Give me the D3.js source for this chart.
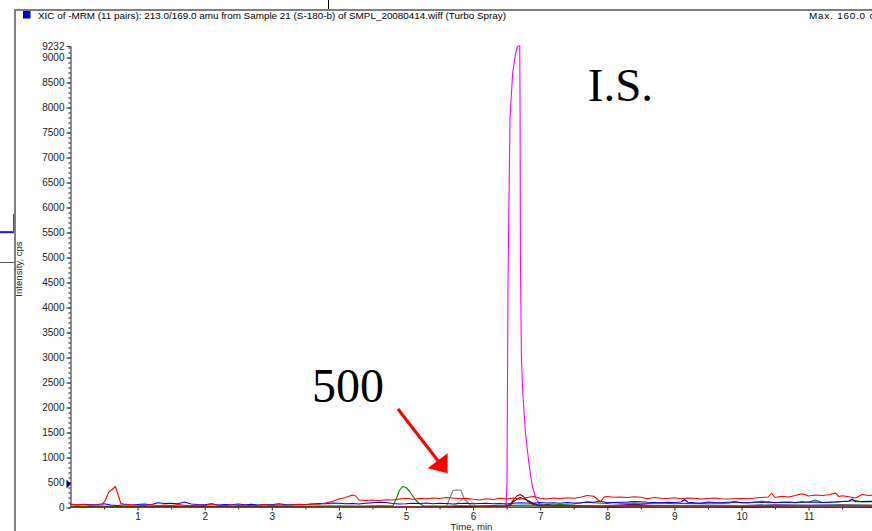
<!DOCTYPE html>
<html>
<head>
<meta charset="utf-8">
<script src="https://cdn.jsdelivr.net/npm/d3@7"></script>
<style>
  html, body { margin: 0; padding: 0; background: #fff; overflow: hidden; }
  svg { display: block; }
  text { font-family: "Liberation Sans", Arial, sans-serif; }
</style>
</head>
<body>
<svg id="chart" width="872" height="531"></svg>
<script>
// ---- header text ----
const titleText = "XIC of -MRM (11 pairs): 213.0/169.0 amu from Sample 21 (S-180-b) of SMPL_20080414.wiff (Turbo Spray)";
const maxText = "Max. 160.0 cps.";
const xAxisTitle = "Time, min";
const yAxisTitle = "Intensity, cps";

// ---- axis ticks ----
const xTickValues = [1, 2, 3, 4, 5, 6, 7, 8, 9, 10, 11];
const xMinorTicks = [0.5, 1.5, 2.5, 3.5, 4.5, 5.5, 6.5, 7.5, 8.5, 9.5, 10.5, 11.5];
const yTickValues = [0, 500, 1000, 1500, 2000, 2500, 3000, 3500, 4000, 4500, 5000, 5500, 6000, 6500, 7000, 7500, 8000, 8500, 9000, 9232];
const yMinorTicks = d3.range(0, 9201, 100);
const yMax = 9232;
const xMax = 12;

// ---- traces: [time (min), intensity (cps)] ----
const redTrace = [[0,70],[0.1,55],[0.2,60],[0.3,45],[0.4,50],[0.47,55],[0.52,150],[0.57,310],[0.62,360],[0.67,420],[0.71,250],[0.75,80],[0.8,70],[0.9,55],[1.0,45],[1.1,40],[1.2,55],[1.3,35],[1.4,50],[1.5,40],[1.6,60],[1.7,45],[1.8,35],[1.9,50],[2.0,40],[2.1,75],[2.2,45],[2.3,35],[2.4,55],[2.5,40],[2.6,50],[2.7,35],[2.8,45],[2.9,60],[3.0,40],[3.1,55],[3.2,45],[3.3,50],[3.4,60],[3.5,55],[3.6,70],[3.7,65],[3.8,90],[3.9,120],[4.0,170],[4.1,200],[4.2,250],[4.25,230],[4.3,150],[4.4,140],[4.5,150],[4.6,135],[4.7,155],[4.8,150],[4.9,170],[5.0,185],[5.1,165],[5.2,180],[5.3,175],[5.4,190],[5.5,180],[5.6,200],[5.7,190],[5.8,175],[5.9,185],[6.0,165],[6.1,150],[6.2,175],[6.3,160],[6.4,185],[6.5,170],[6.6,190],[6.7,165],[6.8,200],[6.9,220],[7.0,185],[7.1,170],[7.2,190],[7.3,175],[7.4,195],[7.5,185],[7.6,205],[7.7,240],[7.8,225],[7.9,110],[7.95,210],[8.0,220],[8.1,205],[8.2,210],[8.3,200],[8.4,215],[8.5,205],[8.6,175],[8.7,200],[8.8,185],[8.9,180],[9.0,195],[9.1,175],[9.2,190],[9.3,185],[9.4,170],[9.5,180],[9.6,190],[9.7,175],[9.8,170],[9.9,175],[10.0,180],[10.1,175],[10.2,190],[10.3,200],[10.4,210],[10.45,285],[10.5,200],[10.6,225],[10.7,210],[10.8,240],[10.9,275],[11.0,230],[11.1,250],[11.2,240],[11.3,255],[11.4,290],[11.45,220],[11.5,235],[11.6,215],[11.7,190],[11.8,260],[11.9,240],[12.0,250]];

const blueTrace = [[0,60],[0.1,50],[0.2,65],[0.3,55],[0.4,60],[0.5,75],[0.6,50],[0.7,40],[0.8,55],[0.9,50],[1.0,60],[1.1,70],[1.2,55],[1.3,95],[1.4,80],[1.5,85],[1.6,75],[1.7,110],[1.8,70],[1.9,60],[2.0,55],[2.1,75],[2.2,50],[2.3,60],[2.4,55],[2.5,70],[2.6,55],[2.7,65],[2.8,50],[2.9,60],[3.0,55],[3.1,75],[3.2,60],[3.3,55],[3.4,65],[3.5,60],[3.6,70],[3.7,80],[3.8,75],[3.9,90],[4.0,85],[4.1,75],[4.2,80],[4.3,70],[4.4,85],[4.5,95],[4.6,105],[4.7,100],[4.8,80],[4.9,70],[5.0,75],[5.1,85],[5.2,80],[5.3,90],[5.4,75],[5.5,85],[5.6,80],[5.7,70],[5.8,80],[5.9,85],[6.0,75],[6.1,80],[6.2,85],[6.3,75],[6.4,80],[6.5,70],[6.6,85],[6.7,95],[6.8,90],[6.9,85],[7.0,100],[7.1,90],[7.2,95],[7.3,85],[7.4,100],[7.5,90],[7.6,95],[7.7,110],[7.8,105],[7.9,125],[8.0,95],[8.1,100],[8.2,105],[8.3,110],[8.4,120],[8.5,115],[8.6,105],[8.7,100],[8.8,95],[8.9,105],[9.0,100],[9.1,110],[9.15,160],[9.2,105],[9.3,95],[9.4,90],[9.5,110],[9.6,100],[9.7,95],[9.8,105],[9.9,110],[10.0,100],[10.1,95],[10.2,110],[10.3,100],[10.4,115],[10.5,95],[10.6,105],[10.7,110],[10.8,100],[10.9,115],[11.0,105],[11.1,110],[11.2,100],[11.3,105],[11.4,110],[11.5,120],[11.6,130],[11.65,170],[11.7,115],[11.8,120],[11.9,125],[12.0,120]];

const greenTrace = [[0,20],[0.5,25],[1,20],[1.5,30],[2,25],[2.5,20],[3,30],[3.5,25],[4,30],[4.3,25],[4.6,35],[4.8,30],[4.85,150],[4.9,340],[4.95,420],[5.0,400],[5.05,330],[5.1,230],[5.15,140],[5.2,80],[5.26,35],[5.4,30],[5.6,25],[5.8,35],[6.0,30],[6.3,40],[6.6,45],[6.9,50],[7.2,55],[7.5,70],[7.7,110],[7.8,95],[8.0,80],[8.1,100],[8.2,85],[8.4,90],[8.6,80],[8.8,90],[9.0,75],[9.2,85],[9.4,80],[9.6,90],[9.8,85],[9.9,120],[10.0,90],[10.2,100],[10.3,130],[10.4,95],[10.6,105],[10.8,95],[11.0,110],[11.1,150],[11.2,100],[11.4,110],[11.6,125],[11.7,140],[11.8,110],[12.0,115]];

const grayTrace = [[0,15],[1,10],[2,15],[3,10],[4,15],[5,10],[5.6,15],[5.65,180],[5.7,340],[5.75,350],[5.82,345],[5.87,170],[5.95,60],[6.0,15],[6.5,20],[7,25],[7.5,30],[8,35],[8.5,30],[9,40],[9.5,35],[10,40],[10.5,35],[11,45],[11.5,40],[12,45]];

const lightGrayTrace = [[0,10],[2,10],[4,10],[5.7,20],[5.8,120],[5.85,170],[5.95,160],[6.0,80],[6.05,15],[7,20],[8,25],[9,25],[10,30],[11,30],[12,30]];

const magentaTrace = [[0,5],[0.5,8],[1,5],[1.5,10],[2,6],[2.5,8],[3,5],[3.5,10],[4,8],[4.5,12],[5,10],[5.5,8],[6,12],[6.3,10],[6.49,15],[6.505,500],[6.52,4500],[6.55,7800],[6.59,8700],[6.63,9050],[6.655,9200],[6.68,9232],[6.695,9232],[6.70,8000],[6.705,5000],[6.72,3000],[6.74,2300],[6.78,1500],[6.83,900],[6.88,450],[6.93,200],[6.98,80],[7.05,40],[7.3,20],[7.6,15],[8,20],[8.5,15],[9,20],[9.5,15],[10,20],[10.5,15],[11,20],[11.5,15],[12,20]];

const darkRedTrace = [[0,10],[2,12],[4,10],[6,15],[6.5,20],[6.55,60],[6.6,150],[6.65,230],[6.7,260],[6.75,220],[6.8,140],[6.85,90],[6.9,60],[7.0,30],[8,25],[9,30],[10,25],[11,30],[12,30]];

const blackTrace = [[0,15],[1,10],[2,15],[3,10],[4,20],[5,15],[6,20],[6.5,25],[6.55,40],[6.6,120],[6.7,200],[6.8,150],[6.9,80],[7.0,40],[7.1,60],[7.2,45],[7.5,40],[8,35],[8.5,45],[9,40],[9.5,45],[10,40],[10.5,50],[11,45],[11.5,50],[12,45]];

const purpleTrace = [[0,25],[1,20],[2,25],[3,20],[4,25],[5,20],[6,25],[7,30],[7.5,35],[8,40],[8.4,65],[8.6,45],[9,35],[9.5,40],[10,35],[10.5,45],[11,40],[11.5,45],[12,40]];

const tealTrace = [[0,5],[2,8],[4,6],[6,8],[7,10],[8,15],[9,12],[10,15],[11,12],[12,15]];

// drawn bottom to top
const traces = [
  { name: "magenta", color: "#ff00ff", data: magentaTrace },
  { name: "teal", color: "#008080", data: tealTrace },
  { name: "purple", color: "#800080", data: purpleTrace },
  { name: "black", color: "#000000", data: blackTrace },
  { name: "lightgray", color: "#b4b4b4", data: lightGrayTrace },
  { name: "gray", color: "#808080", data: grayTrace },
  { name: "green", color: "#008000", data: greenTrace },
  { name: "blue", color: "#0000ff", data: blueTrace },
  { name: "darkred", color: "#8b0000", data: darkRedTrace },
  { name: "red", color: "#ff0000", data: redTrace }
];

// ---- annotations in data units ----
const isLabel = { text: "I.S.", t: 7.71, v: 8130 };
const amountLabel = { text: "500", t: 3.6, v: 2110 };
const arrowLine = [[4.88, 1970], [5.48, 930]];
const arrowHead = [[5.62, 684], [5.62, 1084], [5.323, 784]];
const markerLevel = 470;

// ---- drawing ----
const svg = d3.select("#chart");
const W = 872, H = 531;

const x = d3.scaleLinear().domain([0, xMax]).range([70.5, 875.7]);
const y = d3.scaleLinear().domain([0, yMax]).range([507.5, 45.9]);

svg.append("rect").attr("width", W).attr("height", H).attr("fill", "#fff");

// neighbouring pane fragments at the far left
svg.append("line").attr("x1", 0).attr("x2", 14).attr("y1", 231.5).attr("y2", 231.5)
  .attr("stroke", "#d02020").attr("stroke-width", 1);
svg.append("line").attr("x1", 0).attr("x2", 14).attr("y1", 232.5).attr("y2", 232.5)
  .attr("stroke", "#2020e0").attr("stroke-width", 1.5);
svg.append("line").attr("x1", 13.5).attr("x2", 13.5).attr("y1", 232).attr("y2", 214)
  .attr("stroke", "#007070").attr("stroke-width", 1);
svg.append("line").attr("x1", 0).attr("x2", 15).attr("y1", 262.5).attr("y2", 262.5)
  .attr("stroke", "#555").attr("stroke-width", 1);

// pane frame
svg.append("line").attr("x1", 15).attr("x2", W).attr("y1", 10).attr("y2", 10)
  .attr("stroke", "#808080").attr("stroke-width", 2);
svg.append("line").attr("x1", 15).attr("x2", 15).attr("y1", 9).attr("y2", H)
  .attr("stroke", "#808080").attr("stroke-width", 2);
svg.append("line").attr("x1", 328.5).attr("x2", 328.5).attr("y1", 0).attr("y2", 9)
  .attr("stroke", "#000").attr("stroke-width", 1);

// header
svg.append("rect").attr("x", 23.5).attr("y", 11.5).attr("width", 6.5).attr("height", 6.5)
  .attr("fill", "#0000ee").attr("stroke", "#000080").attr("stroke-width", 1);
svg.append("text").attr("x", 38).attr("y", 19).attr("font-size", 9.9).attr("fill", "#000")
  .text(titleText);
svg.append("text").attr("x", 809).attr("y", 19).attr("font-size", 9.9).attr("fill", "#000")
  .attr("letter-spacing", 0.8).text(maxText);

// y axis
const yAxisMinor = d3.axisLeft(y).tickValues(yMinorTicks).tickSize(2).tickSizeOuter(0).tickFormat("");
const yAxis = d3.axisLeft(y).tickValues(yTickValues).tickSize(4).tickSizeOuter(0).tickPadding(2)
  .tickFormat(d3.format("d"));
const gyMinor = svg.append("g").attr("transform", "translate(70.5,0)").call(yAxisMinor);
gyMinor.select(".domain").remove();
const gy = svg.append("g").attr("transform", "translate(70.5,0)").call(yAxis);
gy.selectAll("text").attr("font-size", 10).attr("fill", "#222")
  .style("font-family", "'Liberation Sans', Arial, sans-serif");
gy.selectAll("line, path").attr("stroke", "#222");

// x axis
const xAxisMinor = d3.axisBottom(x).tickValues(xMinorTicks).tickSize(2).tickSizeOuter(0).tickFormat("");
const xAxis = d3.axisBottom(x).tickValues(xTickValues).tickSize(3).tickSizeOuter(0).tickPadding(2)
  .tickFormat(d3.format("d"));
const gx = svg.append("g").attr("transform", "translate(0,507.5)").call(xAxis);
gx.select(".domain").attr("d", `M${x(0)},0H${W}`);
gx.selectAll("text").attr("font-size", 10).attr("fill", "#222")
  .style("font-family", "'Liberation Sans', Arial, sans-serif");
gx.selectAll("line, path").attr("stroke", "#222");
const gxMinor = svg.append("g").attr("transform", "translate(0,507.5)").call(xAxisMinor);
gxMinor.select(".domain").remove();
gxMinor.selectAll("line").attr("stroke", "#222");

svg.append("text").attr("x", 471.5).attr("y", 530).attr("text-anchor", "middle")
  .attr("font-size", 9.6).attr("fill", "#222").text(xAxisTitle);
svg.append("text").attr("transform", "translate(22,269) rotate(-90)").attr("text-anchor", "middle")
  .attr("font-size", 9.6).attr("fill", "#222").text(yAxisTitle);

// traces
svg.append("clipPath").attr("id", "plotClip").append("rect")
  .attr("x", x(0)).attr("y", 0).attr("width", W - x(0)).attr("height", y(0) + 1);
const line = d3.line().x(d => x(d[0])).y(d => y(d[1]));
svg.append("g").attr("clip-path", "url(#plotClip)")
  .selectAll("path").data(traces).join("path")
  .attr("d", d => line(d.data))
  .attr("fill", "none")
  .attr("stroke", d => d.color)
  .attr("stroke-width", 1.1)
  .attr("stroke-linejoin", "round");

// level marker on the y axis
const my = y(markerLevel);
svg.append("path")
  .attr("d", `M${x(0) - 4},${my - 4.5}L${x(0) + 0.5},${my}L${x(0) - 4},${my + 4.5}Z`)
  .attr("fill", "#000090");

// annotations
svg.append("text").attr("x", x(isLabel.t)).attr("y", y(isLabel.v))
  .style("font-family", "'Liberation Serif', 'Times New Roman', serif")
  .attr("font-size", 47).attr("fill", "#000").text(isLabel.text);
svg.append("text").attr("x", x(amountLabel.t)).attr("y", y(amountLabel.v))
  .style("font-family", "'Liberation Serif', 'Times New Roman', serif")
  .attr("font-size", 48).attr("fill", "#000").text(amountLabel.text);

svg.append("line")
  .attr("x1", x(arrowLine[0][0])).attr("y1", y(arrowLine[0][1]))
  .attr("x2", x(arrowLine[1][0])).attr("y2", y(arrowLine[1][1]))
  .attr("stroke", "#ff0000").attr("stroke-width", 3);
svg.append("polygon")
  .attr("points", arrowHead.map(p => [x(p[0]), y(p[1])].join(",")).join(" "))
  .attr("fill", "#ff0000");
</script>
</body>
</html>
